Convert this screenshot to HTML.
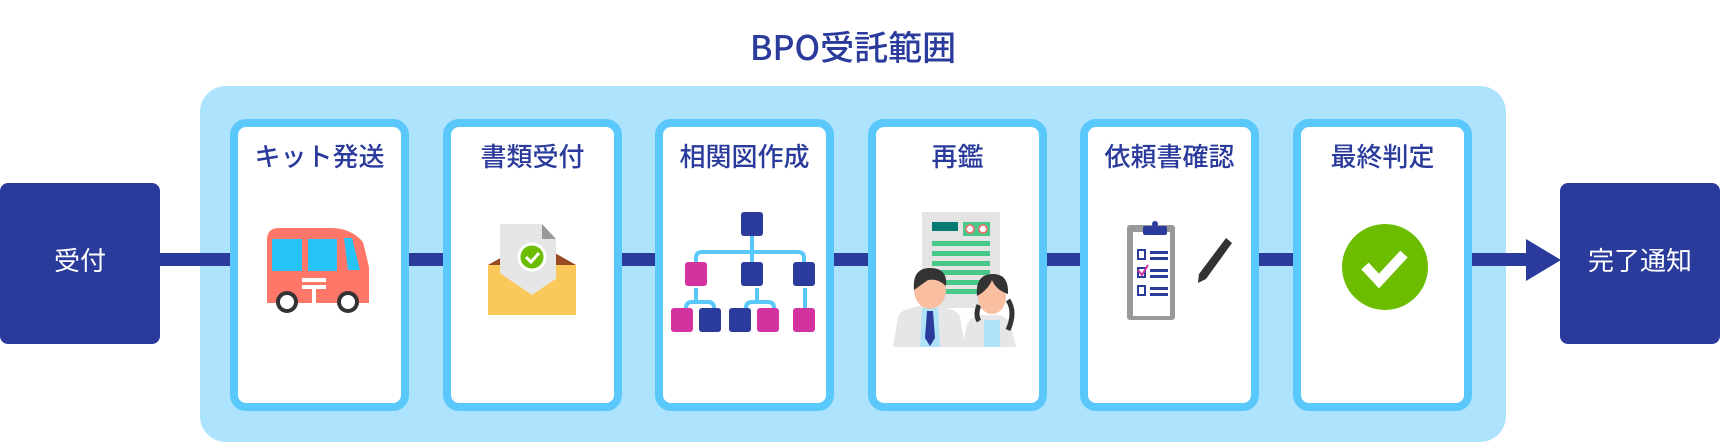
<!DOCTYPE html>
<html><head><meta charset="utf-8"><style>
body{margin:0;width:1720px;height:444px;background:#fff;overflow:hidden;position:relative;font-family:"Liberation Sans","Noto Sans CJK JP",sans-serif}
.t{position:absolute;text-align:center;font-weight:500;color:#2a3b9c;font-family:"Noto Sans CJK JP",sans-serif}
</style></head><body>
<svg width="1720" height="444" style="position:absolute;left:0;top:0">
<rect x="200" y="86" width="1306" height="356" rx="26" fill="#ade3fd"/>
<rect x="160" y="253" width="1370" height="13" fill="#2a3b9c"/>
<polygon points="1526,239 1561,260 1526,281" fill="#2a3b9c"/>
<rect x="0" y="183" width="160" height="161" rx="8" fill="#2a3b9c"/>
<rect x="1560" y="183" width="160" height="161" rx="8" fill="#2a3b9c"/>
<g fill="#fff" stroke="#5bc8fc" stroke-width="8">
<rect x="234" y="123" width="171" height="284" rx="12"/>
<rect x="447" y="123" width="171" height="284" rx="12"/>
<rect x="659" y="123" width="171" height="284" rx="12"/>
<rect x="872" y="123" width="171" height="284" rx="12"/>
<rect x="1084" y="123" width="171" height="284" rx="12"/>
<rect x="1297" y="123" width="171" height="284" rx="12"/>
</g>
<!-- bus -->
<path d="M267,240 q0,-12 12,-12 h52 q20,0 32,14 l6,25 v36 h-102z" fill="#ff7768"/>
<rect x="272" y="239" width="30" height="32" fill="#24c4f8"/>
<rect x="308" y="239" width="29" height="32" fill="#24c4f8"/>
<polygon points="344,238 352,238 360,270 348,270" fill="#24c4f8"/>
<rect x="302" y="278" width="24" height="4" fill="#fff"/><rect x="302" y="285" width="24" height="4" fill="#fff"/><rect x="312" y="289" width="4" height="14" fill="#fff"/>
<circle cx="287" cy="302" r="9" fill="#fff" stroke="#333" stroke-width="4"/>
<circle cx="348" cy="302" r="9" fill="#fff" stroke="#333" stroke-width="4"/>
<!-- envelope -->
<rect x="488" y="265" width="88" height="50" fill="#fbc85a"/>
<polygon points="488,265 532,240 576,265" fill="#9a4a20"/>
<path d="M500,224 h42 l14,15 v50 l-24,15 l-32,-20z" fill="#e6e6e6"/>
<polygon points="542,224 556,239 542,239" fill="#999"/>
<polygon points="488,265 532,295 576,265 576,315 488,315" fill="#fbc85a"/>
<circle cx="532" cy="257" r="13" fill="#6cbd00" stroke="#fff" stroke-width="3"/>
<path d="M526,257 l5,5 l8,-9" stroke="#fff" stroke-width="3" fill="none"/>
<!-- tree -->
<g stroke="#5bc8fc" stroke-width="4" fill="none">
<path d="M752,224 V270 M696,275 V258 q0,-6 6,-6 h96 q6,0 6,6 v17 M686,320 v-12 q0,-6 6,-6 h16 q6,0 6,6 v12 M746,320 v-12 q0,-6 6,-6 h16 q6,0 6,6 v12 M696,288 v14 M757,288 v14 M805,288 V320"/>
</g>
<g>
<rect x="741" y="212" width="22" height="24" rx="3" fill="#2a3b9c"/>
<rect x="685" y="262" width="22" height="24" rx="3" fill="#d4329e"/>
<rect x="741" y="262" width="22" height="24" rx="3" fill="#2a3b9c"/>
<rect x="793" y="262" width="22" height="24" rx="3" fill="#2a3b9c"/>
<rect x="671" y="308" width="22" height="24" rx="3" fill="#d4329e"/>
<rect x="699" y="308" width="22" height="24" rx="3" fill="#2a3b9c"/>
<rect x="729" y="308" width="22" height="24" rx="3" fill="#2a3b9c"/>
<rect x="757" y="308" width="22" height="24" rx="3" fill="#d4329e"/>
<rect x="793" y="308" width="22" height="24" rx="3" fill="#d4329e"/>
</g>
<!-- doc & people -->
<rect x="922" y="212" width="78" height="96" fill="#e4e4e4"/>
<rect x="932" y="222" width="26" height="9" fill="#037a72"/>
<rect x="963" y="222" width="27" height="14" fill="#48c98a"/>
<circle cx="970" cy="229" r="4" fill="#fff" stroke="#f66" stroke-width="1.5"/><circle cx="983" cy="229" r="4" fill="#fff" stroke="#f66" stroke-width="1.5"/>
<g fill="#48c98a"><rect x="932" y="241" width="58" height="5"/><rect x="932" y="251" width="58" height="5"/><rect x="932" y="261" width="58" height="5"/><rect x="932" y="270" width="58" height="5"/><rect x="932" y="280" width="58" height="5"/><rect x="932" y="289" width="58" height="5"/></g>
<path d="M893,347 l5,-30 q2,-6 10,-8 l22,-6 l20,6 q8,2 10,8 l5,30z" fill="#e6e6e6"/>
<polygon points="922,308 938,308 940,347 920,347" fill="#aee2f8"/>
<polygon points="927,311 933,311 935,338 930,346 925,338" fill="#2a3b9c"/>
<ellipse cx="930" cy="290" rx="16" ry="19" fill="#f9bfa0"/>
<path d="M914,290 q-2,-22 16,-22 q18,0 16,18 q-8,-8 -18,-6 z" fill="#333"/>
<path d="M962,347 l5,-22 q3,-8 14,-10 h16 q11,2 14,10 l5,22z" fill="#e6e6e6"/>
<rect x="984" y="320" width="16" height="27" fill="#aee2f8"/>
<path d="M979,305 q-4,10 0,16 M1008,300 q8,12 0,30" stroke="#333" stroke-width="5" fill="none"/>
<ellipse cx="992" cy="297" rx="14" ry="17" fill="#f9bfa0"/>
<path d="M977,296 q-2,-22 16,-22 q16,0 15,20 q-12,-4 -16,-14 q-4,10 -15,16z" fill="#333"/>
<!-- clipboard -->
<rect x="1127" y="225" width="48" height="95" rx="3" fill="#999"/>
<rect x="1133" y="232" width="37" height="84" fill="#fff"/>
<rect x="1143" y="226" width="24" height="9" rx="2" fill="#2a3b9c"/><circle cx="1155" cy="224" r="3" fill="#2a3b9c"/>
<g fill="none" stroke="#2a3b9c" stroke-width="2"><rect x="1138" y="250" width="7" height="9"/><rect x="1138" y="268" width="7" height="9"/><rect x="1138" y="286" width="7" height="9"/></g>
<g fill="#2a3b9c"><rect x="1150" y="251" width="18" height="3"/><rect x="1150" y="257" width="18" height="3"/><rect x="1150" y="269" width="18" height="3"/><rect x="1150" y="275" width="18" height="3"/><rect x="1150" y="287" width="18" height="3"/><rect x="1150" y="293" width="18" height="3"/></g>
<path d="M1138,270 l4,5 l6,-10" stroke="#d4329e" stroke-width="2" fill="none"/>
<path d="M1226,238 l6,5 l-26,36 l-8,4 l1,-9z" fill="#333"/>
<!-- check -->
<circle cx="1385" cy="267" r="43" fill="#6cbd00"/>
<path d="M1365,266 l14,15 l25,-27" stroke="#fff" stroke-width="10" fill="none"/>
</svg>
<div class="t" style="left:600px;top:24px;width:506px;font-size:34px;line-height:44px">BPO受託範囲</div>
<div class="t" style="left:0;top:242px;width:160px;font-size:26px;line-height:36px;color:#fff;font-weight:normal">受付</div>
<div class="t" style="left:1560px;top:242px;width:160px;font-size:26px;line-height:36px;color:#fff;font-weight:normal">完了通知</div>
<div class="t" style="left:230px;top:138px;width:179px;font-size:26px;line-height:36px">キット発送</div>
<div class="t" style="left:443px;top:138px;width:179px;font-size:26px;line-height:36px">書類受付</div>
<div class="t" style="left:655px;top:138px;width:179px;font-size:26px;line-height:36px">相関図作成</div>
<div class="t" style="left:868px;top:138px;width:179px;font-size:26px;line-height:36px">再鑑</div>
<div class="t" style="left:1080px;top:138px;width:179px;font-size:26px;line-height:36px">依頼書確認</div>
<div class="t" style="left:1293px;top:138px;width:179px;font-size:26px;line-height:36px">最終判定</div>
</body></html>
